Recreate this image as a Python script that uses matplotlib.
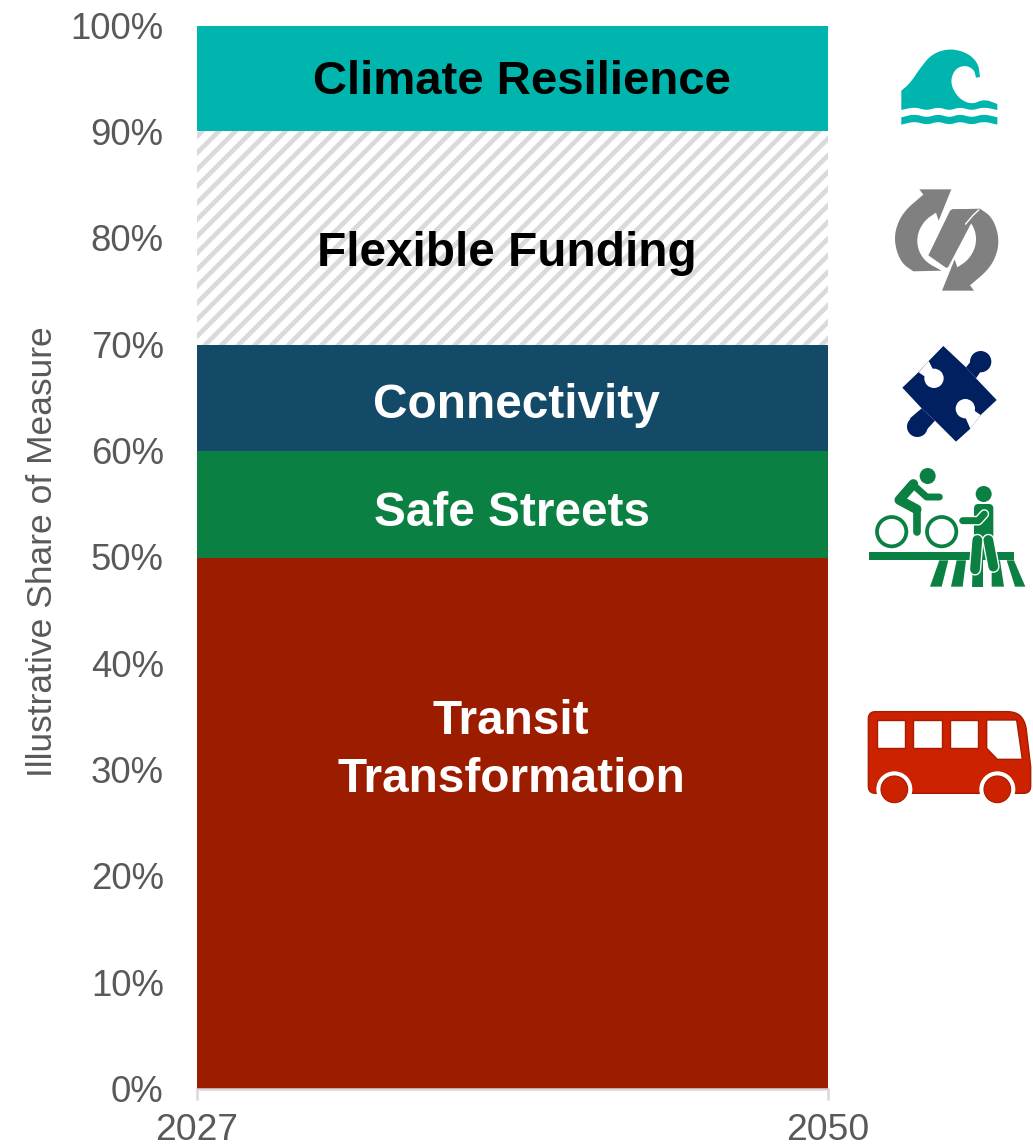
import numpy as np
import matplotlib
matplotlib.use("Agg")
import matplotlib.pyplot as plt
from matplotlib.patches import Polygon, Circle, Rectangle
from matplotlib.transforms import ScaledTranslation

plt.rcParams['font.family'] = ['Liberation Sans', 'DejaVu Sans']
plt.rcParams['hatch.linewidth'] = 3.4

years = [2027, 2050]
transit = [50, 50]
safe_streets = [10, 10]
connectivity = [10, 10]
flexible = [20.1, 20.1]
climate = [9.9, 9.9]
series_colors = ['#9C1C00', '#0B8043', '#134A68', '#FFFFFF', '#00B5AD']
yticks = list(range(0, 101, 10))
ytick_labels = [f'{v}%' for v in yticks]
ylabel = 'Illustrative Share of Measure'
GREY = '#595959'

W, H = 1033, 1148
fig = plt.figure(figsize=(W / 100, H / 100), dpi=100)
ax = fig.add_axes([197 / W, (H - 1089) / H, (828 - 197) / W, (1089 - 26) / H])
polys = ax.stackplot(years, transit, safe_streets, connectivity, flexible, climate,
                     colors=series_colors, linewidth=0)
polys[3].set_facecolor('white')
polys[3].set_edgecolor('#DADADA')
polys[3].set_hatch('//')
polys[3].set_linewidth(0)
ax.set_xlim(2027, 2050)
ax.set_ylim(0, 100)
ax.set_xticks(years)
ax.set_yticks(yticks)
ax.set_yticklabels(ytick_labels)
for s in ['top', 'right', 'left']:
    ax.spines[s].set_visible(False)
ax.spines['bottom'].set_color('#D9D9D9')
ax.spines['bottom'].set_linewidth(1.8)
ax.tick_params(axis='y', length=0, pad=24, labelsize=26.3, labelcolor=GREY)
ax.tick_params(axis='x', length=8, width=1.8, color='#D9D9D9', pad=9.5, labelsize=26.8, labelcolor=GREY)
up = ScaledTranslation(0, 0.5 / 72, fig.dpi_scale_trans)
for t in ax.get_yticklabels():
    t.set_transform(t.get_transform() + up)

# overlay in pixel coordinates for the labels and pictograms
ov = fig.add_axes([0, 0, 1, 1], facecolor='none')
ov.set_xlim(0, W)
ov.set_ylim(H, 0)
ov.axis('off')

ov.text(43, 552, ylabel, rotation=90, ha='center', va='center', fontsize=25.5, color=GREY)


def label(x, y, s, c, fs=34.4):
    ov.text(x, y + 4, s, ha='center', va='center', fontsize=fs, fontweight='bold', color=c)


label(522, 78, 'Climate Resilience', 'black', 34)
label(507, 249, 'Flexible Funding', 'black')
label(516, 401, 'Connectivity', 'white')
label(512, 509, 'Safe Streets', 'white')
label(511, 718, 'Transit', 'white')
label(511, 775, 'Transformation', 'white')


def rp(pts, r=1e9, n=10):
    """Round a polygon: each vertex (x, y[, radius]) is replaced by a quadratic curve."""
    out = []
    m = len(pts)
    for i, p in enumerate(pts):
        v = np.array(p[:2], float)
        rad = p[2] if len(p) > 2 else r
        if rad == 0:
            out.append(v)
            continue
        a = np.array(pts[i - 1][:2], float) - v
        b = np.array(pts[(i + 1) % m][:2], float) - v
        la, lb = np.hypot(*a), np.hypot(*b)
        p0 = v + a / la * min(rad, la / 2)
        p1 = v + b / lb * min(rad, lb / 2)
        for t in np.linspace(0, 1, n):
            out.append((1 - t) ** 2 * p0 + 2 * t * (1 - t) * v + t ** 2 * p1)
    return np.array(out)


def m1(p):
    return np.asarray(p)[:, :2] / 3 + [860, 30]


def m2(p):
    return np.asarray(p)[:, :2] / 3 + [860, 450]


def pt1(a, b):
    return 860 + a / 3, 30 + b / 3


def pt2(a, b):
    return 860 + a / 3, 450 + b / 3


# wave
TEAL = '#00B5AD'
ov.add_patch(Polygon(m1(rp([(124, 182, 0), (124, 240, 0), (165, 231), (200, 242), (235, 231), (268, 242),
                            (300, 231), (335, 242), (370, 231), (412, 240, 0), (412, 222, 0),
                            (372, 207), (335, 224), (295, 205), (270, 160), (283, 118), (315, 105),
                            (342, 118), (348, 143, 0), (360, 141, 0), (355, 100), (322, 68),
                            (268, 55), (215, 72), (180, 115), (150, 160)])), fc=TEAL, lw=0))
ov.add_patch(Polygon(m1(rp([(124, 262, 0), (165, 252), (200, 263), (235, 252), (268, 263), (300, 252),
                            (335, 263), (370, 252), (412, 262, 0), (412, 284, 0), (370, 274),
                            (335, 285), (300, 274), (268, 285), (235, 274), (200, 285), (165, 274),
                            (124, 284, 0)])), fc=TEAL, lw=0))

# arrows
GR = '#808080'
left_arrow = [(178, 478, 0), (274, 478, 0), (236, 572, 0), (228, 548, 0), (195, 570), (172, 610),
              (172, 655), (195, 695), (245, 722, 0), (160, 724, 0), (125, 700), (105, 650),
              (105, 600), (130, 545), (190, 494, 0)]
ov.add_patch(Polygon(m1(rp(left_arrow)), fc=GR, lw=0))
ov.add_patch(Polygon(m1(rp([(520 - p[0], 1260 - p[1]) + tuple(p[2:]) for p in left_arrow])), fc=GR, lw=0))
ov.add_patch(Polygon(m1(rp([(272, 538, 8), (356, 537, 0), (262, 716, 8), (205, 676, 0)])), fc=GR, lw=0))
ov.plot(*m1([(203, 678), (222, 703), (250, 720)]).T, color='white', lw=1.0)
ov.plot(*m1([(317, 582), (338, 557), (356, 540)]).T, color='white', lw=1.0)

# puzzle
NAVY = '#002060'
ov.add_patch(Polygon(m1([(250, 948), (318, 1012), (348, 1045), (410, 1110), (362, 1155), (330, 1197),
                         (288, 1235), (225, 1172), (185, 1135), (127, 1073), (175, 1027), (207, 992)]),
                     fc=NAVY, lw=0))
ov.add_patch(Polygon(m1([(318, 1012), (340, 985), (365, 1020), (348, 1045)]), fc=NAVY, lw=0))
ov.add_patch(Polygon(m1([(225, 1172), (190, 1210), (150, 1165), (185, 1135)]), fc=NAVY, lw=0))
ov.add_patch(Circle(pt1(362, 995), 32 / 3, fc=NAVY, lw=0))
ov.add_patch(Circle(pt1(172, 1190), 31 / 3, fc=NAVY, lw=0))
ov.add_patch(Circle(pt1(222, 1045), 29 / 3, fc='white', lw=0))
ov.add_patch(Circle(pt1(316, 1136), 29 / 3, fc='white', lw=0))
ov.add_patch(Polygon(m1([(176, 1027), (206, 993), (220, 1020), (198, 1042)]), fc='white', lw=0))
ov.add_patch(Polygon(m1([(362, 1155), (331, 1196), (315, 1160), (340, 1140)]), fc='white', lw=0))

# cyclist and pedestrian
G = '#0B8043'
for a, b in [(203, 78), (371, 132)]:
    ov.add_patch(Circle(pt2(a, b), 24 / 3, fc=G, lw=0))
for a in (95, 245):
    ov.add_patch(Circle(pt2(a, 245), 44 / 3, fc='none', ec=G, lw=2.7))
ov.plot(*m2([(160, 102), (118, 150), (170, 178)]).T, color=G, lw=7,
        solid_capstyle='round', solid_joinstyle='round')
ov.plot(*m2([(170, 178), (170, 245)]).T, color=G, lw=5.5, solid_capstyle='round')
ov.plot(*m2([(160, 105), (200, 141), (238, 141)]).T, color=G, lw=5,
        solid_capstyle='round', solid_joinstyle='round')
ov.add_patch(Polygon(m2([(28, 306), (462, 306), (462, 331), (28, 331)]), fc=G, lw=0))
for q in [[(238, 331), (265, 331), (245, 410), (210, 410)],
          [(290, 331), (318, 331), (308, 410), (273, 410)],
          [(340, 331), (370, 331), (370, 410), (336, 410)],
          [(395, 331), (420, 331), (432, 410), (395, 410)],
          [(440, 331), (462, 331), (496, 410), (465, 410)]]:
    ov.add_patch(Polygon(m2(q), fc=G, lw=0))
ov.add_patch(Polygon(m2(rp([(342, 162, 14), (400, 162, 14), (400, 310, 0), (342, 310, 0)])), fc=G, lw=0))
for leg in ([(352, 270), (345, 358)], [(385, 270), (400, 350)]):
    ov.plot(*m2(leg).T, color='white', lw=9, solid_capstyle='round', zorder=3)
for leg in ([(352, 270), (345, 358)], [(385, 270), (400, 350)]):
    ov.plot(*m2(leg).T, color=G, lw=7, solid_capstyle='round', zorder=3)
ov.plot(*m2([(308, 212), (355, 212), (373, 192)]).T, color='white', lw=7, solid_capstyle='round', zorder=3)
ov.plot(*m2([(308, 212), (355, 212), (373, 192)]).T, color=G, lw=5, solid_capstyle='round', zorder=3)

# bus
R = '#CC2200'
RD = '#A61C00'
ov.add_patch(Polygon(m2(rp([(25, 785, 22), (470, 785, 30), (496, 815, 25), (512, 950, 0),
                            (512, 1030, 22), (25, 1030, 22)])), fc=R, ec=RD, lw=1.0))
for q in [[(50, 810), (135, 810), (135, 895), (50, 895)],
          [(160, 810), (245, 810), (245, 895), (160, 895)],
          [(270, 810), (355, 810), (355, 895), (270, 895)],
          [(380, 810), (470, 810), (487, 928), (412, 928), (380, 895)]]:
    ov.add_patch(Polygon(m2(q), fc='white', ec=RD, lw=1.0))
for a in (103, 412):
    ov.add_patch(Circle(pt2(a, 1018), 54 / 3, fc='white', lw=0))
    ov.add_patch(Rectangle(pt2(a - 54, 1031), 108 / 3, 40 / 3, fc='white', lw=0))
    ov.add_patch(Circle(pt2(a, 1018), 40 / 3, fc=R, ec=RD, lw=0.8))

fig.savefig('out.png', dpi=100)
